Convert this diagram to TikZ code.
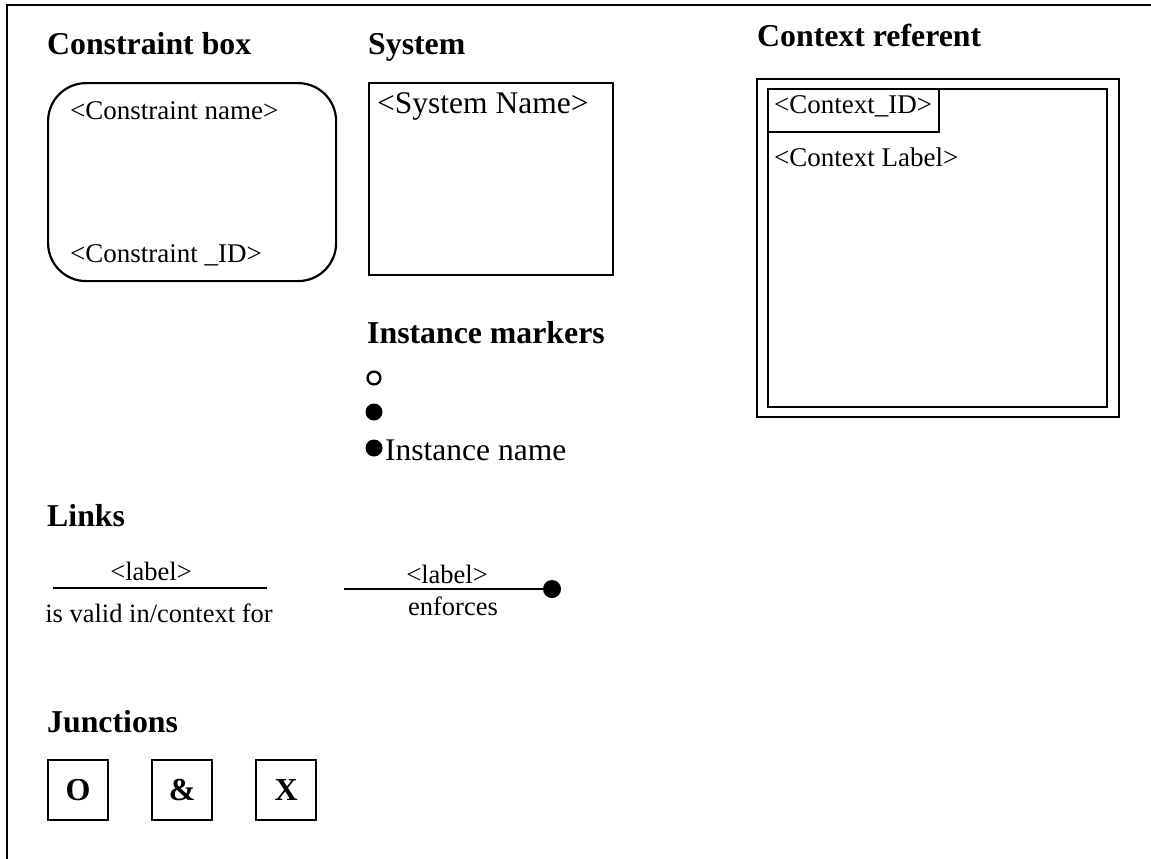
\documentclass[tikz,border=0pt]{standalone}
\usepackage{fontspec}
\setmainfont{Liberation Serif}
\begin{document}
\begin{tikzpicture}[x=1pt,y=-1pt,
  title/.style={anchor=base west,inner sep=0pt,font=\fontsize{31.8}{36}\selectfont\bfseries},
  txt/.style={anchor=base west,inner sep=0pt,font=\fontsize{27}{30}\selectfont},
  bigtxt/.style={anchor=base west,inner sep=0pt,font=\fontsize{31.5}{36}\selectfont},
  lbl/.style={anchor=base,inner sep=0pt,font=\fontsize{26.5}{30}\selectfont},
  boxline/.style={draw,line width=2.2pt},
  junc/.style={boxline,minimum width=60pt,minimum height=60pt,inner sep=0pt,anchor=north west,font=\fontsize{32}{34}\selectfont\bfseries},
  link/.style={line width=2.6pt}]
\useasboundingbox (0,0) rectangle (1151,859);
% frame
\draw[line width=2.6pt] (1160,5) -- (7,5) -- (7,870);
% titles
\node[title] (t1) at (47,55) {Constraint box};
\node[title] (t2) at (368,55) {System};
\node[title] (t3) at (757,47) {Context referent};
\node[title] (t4) at (367,343) {Instance markers};
\node[title] (t5) at (47,526) {Links};
\node[title] (t6) at (47,732) {Junctions};
% constraint box
\node[boxline,rounded corners=38pt,minimum width=288pt,minimum height=198pt,anchor=north west,inner sep=0pt] (cbox) at (47,82) {};
\node[txt] (cname) at (70,119) {<Constraint name>};
\node[txt] (cid) at (70,262) {<Constraint \_ID>};
% system box
\node[boxline,minimum width=244pt,minimum height=192pt,anchor=north west,inner sep=0pt] (sbox) at (368,82) {};
\node[bigtxt] (sname) at (377,113) {<System Name>};
% context referent
\node[draw,line width=2.4pt,minimum width=362pt,minimum height=338pt,anchor=north west,inner sep=0pt] (ctxo) at (756,78) {};
\node[draw,line width=2.4pt,minimum width=339pt,minimum height=318pt,anchor=north west,inner sep=0pt] (ctxi) at (767,88) {};
\node[boxline,minimum width=171pt,minimum height=43pt,anchor=north west,inner sep=0pt] (ctxidbox) at (767,88) {};
\node[txt] (ctxid) at (774,113) {<Context\_ID>};
\node[txt] (ctxlabel) at (774,166) {<Context Label>};
% instance markers
\node[circle,draw,line width=2.3pt,minimum size=12.8pt,inner sep=0pt] (m1) at (374,378) {};
\node[circle,fill,minimum size=17pt,inner sep=0pt] (m2) at (374,412) {};
\node[circle,fill,minimum size=17pt,inner sep=0pt] (m3) at (374,448) {};
\node[bigtxt] (iname) at (385,460) {Instance name};
% links
\coordinate (l1a) at (53,588);
\coordinate (l1b) at (267,588);
\draw[link] (l1a) -- (l1b);
\node[lbl] (l1lab) at (151,580) {<label>};
\node[lbl] (l1txt) at (159,622) {is valid in/context for};
\coordinate (l2a) at (344,589);
\node[circle,fill,minimum size=18pt,inner sep=0pt] (l2dot) at (552,589) {};
\draw[link] (l2a) -- (l2dot.center);
\node[lbl] (l2lab) at (447,583) {<label>};
\node[lbl] (l2txt) at (453,615) {enforces};
% junctions
\node[junc] (jo) at (47,759) {O};
\node[junc] (ja) at (151,759) {\&};
\node[junc] (jx) at (255,759) {X};
\end{tikzpicture}
\end{document}
